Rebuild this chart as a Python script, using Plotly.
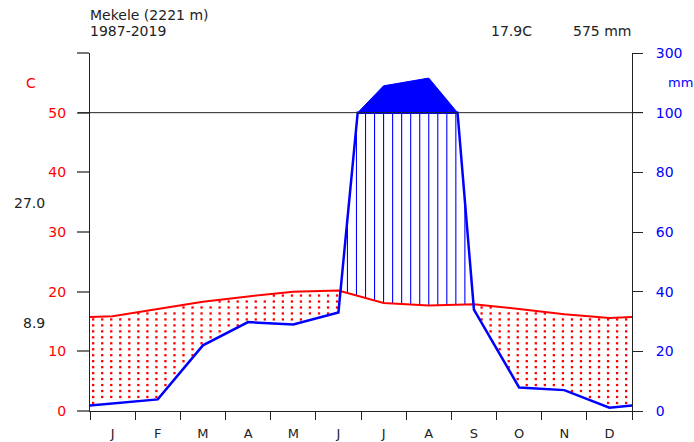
import numpy as np
import plotly.graph_objects as go

# ---- data ----
months = ["J", "F", "M", "A", "M", "J", "J", "A", "S", "O", "N", "D"]
temp_c = [15.9, 17.1, 18.3, 19.2, 20.0, 20.2, 18.1, 17.7, 17.9, 17.1, 16.2, 15.6]
precip_mm = [2.6, 3.9, 22.0, 29.8, 29.0, 33.0, 190.0, 216.0, 34.0, 7.9, 7.0, 1.1]
left_ticks = ["0", "10", "20", "30", "40", "50", ""]
right_ticks = ["0", "20", "40", "60", "80", "100", "300"]
station = "Mekele (2221 m)"
period = "1987-2019"
mean_t = "17.9C"
total_p = "575 mm"
max_warm = "27.0"
min_cold = "8.9"

FONT = "DejaVu Sans, Liberation Sans, Arial"
W, H = 694, 442
L, R, T, B = 90, 632, 53, 411


def px(xp):
    return (xp - L) / (R - L)


def py(yp):
    return (B - yp) / (B - T)


# ---- diagram geometry (Walter-Lieth scaling) ----
edge_t = (temp_c[-1] + temp_c[0]) / 2
edge_p = (precip_mm[-1] + precip_mm[0]) / 2
xs = [0.0] + [i + 0.5 for i in range(12)] + [12.0]
ts = [edge_t] + list(temp_c) + [edge_t]
ps = [edge_p] + list(precip_mm) + [edge_p]
ph = [p / 2 for p in ps]  # 1 C = 2 mm below 100 mm


def comp(p):
    return p / 2 if p <= 100 else 50 + (p - 100) / 20


# clipped precipitation line with crossings of 50
cx, cy = [xs[0]], [min(ph[0], 50)]
crossings = []
for i in range(len(xs) - 1):
    x0, y0, x1, y1 = xs[i], ph[i], xs[i + 1], ph[i + 1]
    if (y0 - 50) * (y1 - 50) < 0:
        xc = x0 + (50 - y0) / (y1 - y0) * (x1 - x0)
        cx.append(xc)
        cy.append(50)
        crossings.append(xc)
    cx.append(x1)
    cy.append(min(y1, 50))

# hump above 100 mm
hx, hy = [], []
if len(crossings) >= 2:
    c1, c2 = crossings[0], crossings[1]
    hx.append(c1); hy.append(50)
    for x, p in zip(xs, ps):
        if c1 < x < c2:
            hx.append(x); hy.append(comp(p))
    hx.append(c2); hy.append(50)
    hx.append(c1); hy.append(50)

# humid hatching
vx, vy = [], []
for xh in np.arange(0.1, 12, 0.2):
    t = np.interp(xh, xs, ts)
    p = np.interp(xh, cx, cy)
    if p > t:
        vx += [xh, xh, None]
        vy += [t, p, None]

# arid dots
dx, dy = [], []
for xd in np.arange(0.07, 12, 0.2):
    t = np.interp(xd, xs, ts)
    p = np.interp(xd, cx, cy)
    if p < t:
        for yd in np.arange(0.35, 60, 1.0):
            if p + 0.25 < yd < t - 0.2:
                dx.append(xd)
                dy.append(yd)

fig = go.Figure()
fig.add_trace(go.Scatter(x=dx, y=dy, mode="markers",
                         marker=dict(symbol="square", size=2.3, color="red", line=dict(width=0)),
                         hoverinfo="skip", showlegend=False))
fig.add_trace(go.Scatter(x=vx, y=vy, mode="lines", line=dict(color="blue", width=1.1),
                         hoverinfo="skip", showlegend=False))
fig.add_trace(go.Scatter(x=hx, y=hy, mode="lines", fill="toself", fillcolor="blue",
                         line=dict(color="blue", width=1), hoverinfo="skip", showlegend=False))
fig.add_trace(go.Scatter(x=xs, y=ts, mode="lines", line=dict(color="red", width=2),
                         showlegend=False))
fig.add_trace(go.Scatter(x=cx, y=cy, mode="lines", line=dict(color="blue", width=2.5),
                         showlegend=False))
fig.add_trace(go.Scatter(x=[0], y=[0], yaxis="y2", mode="markers",
                         marker=dict(opacity=0), hoverinfo="skip", showlegend=False))

fig.add_shape(type="line", xref="paper", yref="y", x0=px(78), x1=px(643), y0=50, y1=50,
              line=dict(color="#222222", width=1))

tick_y = [0, 10, 20, 30, 40, 50, 60]
fig.update_layout(
    width=W, height=H, autosize=False,
    margin=dict(l=L, r=W - R, t=T, b=H - B, pad=0),
    plot_bgcolor="white", paper_bgcolor="white",
    font=dict(family=FONT, size=14, color="#222222"),
    xaxis=dict(range=[0, 12], showgrid=False, zeroline=False, showline=True, automargin=False,
               linecolor="#222222", linewidth=1,
               tickmode="array", tickvals=[i + 0.5 for i in range(12)], ticktext=months,
               ticks="", ticklabelstandoff=10,
               tickfont=dict(family=FONT, size=13, color="#222222"),
               minor=dict(tickmode="array", tickvals=list(range(13)), ticks="outside",
                          ticklen=8, tickwidth=1, tickcolor="#222222")),
    yaxis=dict(range=[0, 60], showgrid=False, zeroline=False, showline=True, automargin=False,
               linecolor="#222222", linewidth=1,
               tickmode="array", tickvals=tick_y, ticktext=left_ticks,
               ticks="outside", ticklen=12, tickcolor="#777777", tickwidth=1.5,
               ticklabelstandoff=8,
               tickfont=dict(family=FONT, size=14, color="red")),
    yaxis2=dict(range=[0, 60], overlaying="y", side="right", showgrid=False, zeroline=False,
                showline=True, automargin=False, linecolor="#222222", linewidth=1,
                tickmode="array", tickvals=tick_y, ticktext=right_ticks,
                ticks="outside", ticklen=10, tickcolor="#222222", tickwidth=1,
                ticklabelstandoff=10,
                tickfont=dict(family=FONT, size=14, color="blue")),
)

ann = [
    (station, px(89), py(15), "left", "#222222", 14),
    (period, px(89), py(31), "left", "#222222", 14),
    (mean_t, px(533), py(31), "right", "#222222", 14),
    (total_p, px(632), py(31), "right", "#222222", 14),
    ("C", px(31), py(83), "center", "red", 14),
    ("mm", px(667), py(83), "left", "blue", 13),
    (max_warm, px(46), py(203), "right", "#222222", 14),
    (min_cold, px(46), py(323), "right", "#222222", 14),
]
for text, x, y, xa, col, sz in ann:
    fig.add_annotation(text=text, x=x, y=y, xref="paper", yref="paper", xanchor=xa,
                       yanchor="middle", showarrow=False, borderpad=0,
                       font=dict(family=FONT, size=sz, color=col))

fig.write_html("out.html")
